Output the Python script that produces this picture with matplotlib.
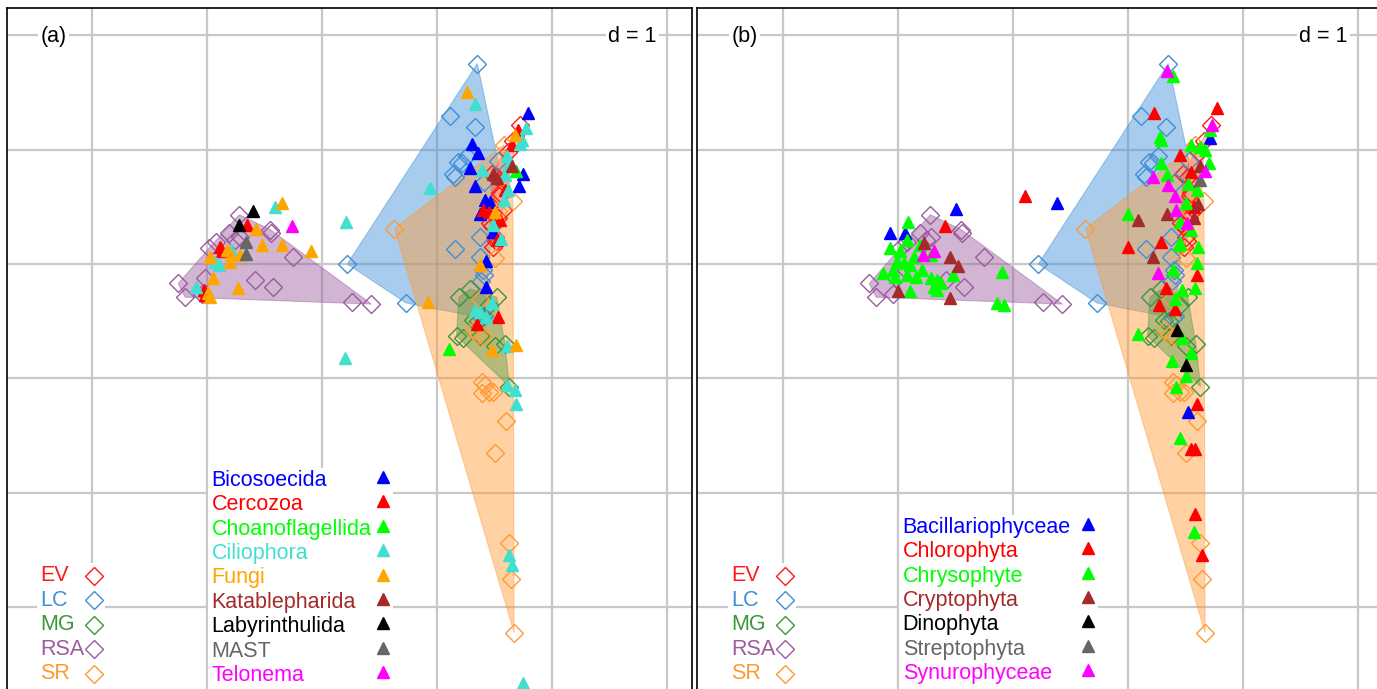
import matplotlib
matplotlib.use("Agg")
import matplotlib.pyplot as plt
from matplotlib.patches import Polygon, Rectangle

plt.rcParams['font.family'] = ['Liberation Sans', 'DejaVu Sans']

# sample scores, same in both panels
ev = [(0.72, 1.21), (0.66, 1.07), (0.62, 0.98), (0.52, 0.76), (0.48, 0.79), (0.54, 0.59),
      (0.55, 0.62), (0.57, 0.47), (0.46, 0.36), (0.53, 0.40), (0.48, 0.33), (0.50, 0.24),
      (0.49, 0.15), (0.51, 0.20)]
lc = [(0.35, 1.75), (0.11, 1.29), (0.33, 1.20), (0.18, 0.89), (0.22, 0.88), (0.26, 0.94),
      (0.14, 0.79), (0.16, 0.76), (0.41, 0.72), (0.53, 0.90), (0.16, 0.13), (0.37, 0.24),
      (0.37, 0.06), (0.40, -0.05), (0.41, -0.10), (0.38, -0.15), (0.39, -0.47), (0.41, -0.45),
      (-0.78, 0.0), (-0.27, -0.34)]
mg = [(0.29, -0.22), (0.19, -0.29), (0.52, -0.29), (0.45, -0.36), (0.31, -0.49), (0.36, -0.50),
      (0.17, -0.63), (0.23, -0.65), (0.37, -0.63), (0.50, -0.72), (0.59, -0.70), (0.63, -1.07)]
rsa = [(-1.72, 0.43), (-1.45, 0.30), (-1.44, 0.27), (-1.25, 0.06), (-1.81, 0.27), (-1.71, 0.24),
       (-1.92, 0.19), (-1.98, 0.14), (-1.76, 0.21), (-2.02, -0.12), (-2.25, -0.17), (-2.19, -0.29),
       (-2.04, -0.26), (-1.58, -0.14), (-1.43, -0.20), (-0.74, -0.33), (-0.57, -0.35)]
sr = [(-0.37, 0.31), (0.58, 1.04), (0.66, 0.55), (0.53, 0.46), (0.50, 0.05), (0.37, -0.31),
      (0.32, -0.58), (0.36, -0.62), (0.40, -0.63), (0.39, -1.03), (0.42, -1.06), (0.45, -1.12),
      (0.49, -1.12), (0.39, -1.13), (0.60, -1.37), (0.50, -1.65), (0.63, -2.44), (0.64, -2.75),
      (0.67, -3.22)]
groups = ['EV', 'LC', 'MG', 'RSA', 'SR']
group_pts = [ev, lc, mg, rsa, sr]
group_cols = ['#ff1a1a', '#3f8fd8', '#3c963c', '#9a5c9e', '#ff9a33']
hull_alpha = [0.25, 0.45, 0.38, 0.45, 0.45]

# panel (a) taxa scores
bicosoecida = [(0.79, 1.32), (0.30, 1.05), (0.36, 0.97), (0.29, 0.84), (0.33, 0.68), (0.42, 0.56),
               (0.37, 0.44), (0.46, 0.54), (0.75, 0.79), (0.71, 0.68), (0.43, 0.03), (0.43, -0.20),
               (0.49, 0.28)]
cercozoa = [(-1.65, 0.34), (-1.89, 0.15), (-1.87, 0.11), (-2.03, -0.23), (-2.02, -0.27), (0.65, 1.04),
            (0.70, 1.17), (0.40, 0.47), (0.45, 0.45), (0.59, 0.65), (0.52, 0.21), (0.55, 0.38),
            (0.53, -0.46), (0.35, -0.52)]
choanoflagellida = [(0.10, -0.74), (0.69, 0.81)]
ciliophora = [(-1.41, 0.50), (-1.79, 0.12), (-1.90, -0.01), (-1.93, 0.02), (-2.10, -0.20), (-0.79, 0.37),
              (-0.80, -0.82), (-0.06, 0.66), (0.33, 1.40), (0.77, 1.19), (0.74, 1.08), (0.72, 1.05),
              (0.61, 0.94), (0.62, 0.86), (0.59, 0.78), (0.62, 0.65), (0.58, 0.56), (0.39, 0.82),
              (0.49, 0.34), (0.56, 0.22), (0.33, -0.40), (0.37, -0.42), (0.43, -0.46), (0.48, -0.34),
              (0.61, -0.72), (0.61, -1.06), (0.68, -1.10), (0.69, -1.22), (0.63, -2.54), (0.65, -2.63),
              (0.75, -3.66)]
fungi = [(-1.35, 0.53), (-1.57, 0.31), (-1.52, 0.17), (-1.35, 0.17), (-1.10, 0.11), (-1.97, 0.06),
         (-1.83, 0.12), (-1.79, 0.08), (-1.80, 0.02), (-1.71, 0.08), (-1.95, -0.12), (-1.99, -0.25),
         (-1.97, -0.29), (-1.73, -0.21), (0.26, 1.50), (-0.08, -0.33), (0.37, -0.01), (0.48, -0.75),
         (0.69, -0.71), (0.68, 1.13), (0.50, 0.45)]
katablepharida = [(0.49, 0.79), (0.65, 0.86), (0.52, 0.75)]
labyrinthulida = [(-1.60, 0.46), (-1.72, 0.34)]
mast = [(-1.66, 0.19), (-1.66, 0.09)]
telonema = [(-1.26, 0.33)]
taxa_a = ['Bicosoecida', 'Cercozoa', 'Choanoflagellida', 'Ciliophora', 'Fungi',
          'Katablepharida', 'Labyrinthulida', 'MAST', 'Telonema']
taxa_a_pts = [bicosoecida, cercozoa, choanoflagellida, ciliophora, fungi,
              katablepharida, labyrinthulida, mast, telonema]
taxa_a_cols = ['#0000ff', '#ff0000', '#00ff00', '#40e0d0', '#ffa500',
               '#a52a2a', '#000000', '#666666', '#ff00ff']

# panel (b) taxa scores
bacillariophyceae = [(-1.50, 0.48), (-2.07, 0.27), (-1.94, 0.27), (-0.62, 0.53), (0.71, 1.10), (0.52, -1.29)]
chlorophyta = [(-0.90, 0.59), (-1.59, 0.33), (0.77, 1.36), (0.23, 1.32), (0.45, 0.95), (0.55, 0.80),
               (0.57, 0.50), (0.29, 0.19), (0.00, 0.15), (0.33, -0.21), (0.27, -0.36), (0.60, -0.10),
               (0.41, -0.39), (0.60, -1.22), (0.55, -1.62), (0.58, -1.62), (0.58, -2.18), (0.64, -2.54)]
chrysophyte = [(-1.91, 0.37), (-1.92, 0.21), (-2.07, 0.14), (-1.81, 0.17), (-1.71, 0.08), (-1.10, -0.07),
               (-1.14, -0.34), (-1.08, -0.36), (-2.01, 0.03), (-1.95, 0.01), (-1.90, -0.01), (-2.04, -0.05),
               (-2.13, -0.08), (-2.03, -0.11), (-1.92, -0.10), (-1.84, -0.11), (-1.79, -0.05), (-1.71, -0.12),
               (-1.66, -0.14), (-1.69, -0.20), (-1.63, -0.17), (-1.52, -0.10), (-1.90, -0.24), (-1.66, -0.23),
               (-1.98, 0.11), (-1.86, 0.06),
               (0.39, 1.64), (0.71, 1.17), (0.28, 1.11), (0.29, 1.08), (0.55, 1.04), (0.63, 1.02),
               (0.67, 1.00), (0.70, 0.88), (0.29, 0.88), (0.34, 0.78), (0.50, 0.53), (0.45, 0.37),
               (0.00, 0.44), (0.45, 0.18), (0.61, 0.15), (0.39, -0.05), (0.60, 0.01), (0.44, 0.17),
               (0.47, -0.23), (0.58, -0.21), (0.41, -0.31), (0.09, -0.61), (0.47, -0.65), (0.55, -0.78),
               (0.38, -0.85), (0.50, -0.98), (0.42, -1.07), (0.45, -1.52), (0.57, -2.34), (0.55, 0.30),
               (0.60, 0.65), (0.52, 0.70)]
cryptophyta = [(-1.77, 0.18), (-1.55, 0.06), (-1.48, -0.02), (-2.00, -0.24), (-1.55, -0.30), (0.63, 0.86),
               (0.61, 0.52), (0.34, 0.44), (0.57, 0.40), (0.09, 0.38), (0.22, 0.06)]
dinophyta = [(0.43, -0.58), (0.50, -0.88)]
streptophyta = [(0.63, 0.73)]
synurophyceae = [(-1.78, 0.08), (-1.69, 0.11), (0.34, 1.69), (0.73, 1.21), (0.22, 0.76), (0.35, 0.69),
                 (0.67, 0.81), (0.41, 0.59), (0.42, 0.47), (0.51, 0.36), (0.26, -0.08)]
taxa_b = ['Bacillariophyceae', 'Chlorophyta', 'Chrysophyte', 'Cryptophyta',
          'Dinophyta', 'Streptophyta', 'Synurophyceae']
taxa_b_pts = [bacillariophyceae, chlorophyta, chrysophyte, cryptophyta,
              dinophyta, streptophyta, synurophyceae]
taxa_b_cols = ['#0000ff', '#ff0000', '#00ff00', '#a52a2a', '#000000', '#666666', '#ff00ff']


def convex_hull(pts):
    pts = sorted(set(pts))

    def cross(o, a, b):
        return (a[0] - o[0]) * (b[1] - o[1]) - (a[1] - o[1]) * (b[0] - o[0])
    lower = []
    for p in pts:
        while len(lower) >= 2 and cross(lower[-2], lower[-1], p) <= 0:
            lower.pop()
        lower.append(p)
    upper = []
    for p in reversed(pts):
        while len(upper) >= 2 and cross(upper[-2], upper[-1], p) <= 0:
            upper.pop()
        upper.append(p)
    return lower[:-1] + upper[:-1]


FS = 15.5
STEP = 0.213
DMS = 9


def panel(ax, tag, xlim, names, pts_list, cols, tx_tri, ty0):
    ax.set_xlim(*xlim)
    ax.set_ylim(-3.712, 2.236)
    ax.set_xticks(range(-3, 3))
    ax.set_yticks(range(-3, 3))
    ax.grid(True, color='#c8c8c8', lw=1.6, zorder=0)
    ax.set_axisbelow(True)
    ax.tick_params(length=0, labelbottom=False, labelleft=False)
    for s in ax.spines.values():
        s.set_linewidth(1.2)
    ax.spines['bottom'].set_visible(False)
    ax.axhline(0, color='black', lw=1.1, zorder=0.5)
    ax.axvline(0, color='black', lw=1.1, zorder=0.5)

    # hulls: LC, SR, MG, EV, RSA
    for i in [1, 4, 2, 0, 3]:
        h = convex_hull(group_pts[i])
        ax.add_patch(Polygon(h, closed=True, facecolor=group_cols[i], alpha=hull_alpha[i],
                             edgecolor=group_cols[i], lw=0.8, zorder=1))
    for g, p, c in zip(groups, group_pts, group_cols):
        ax.plot([q[0] for q in p], [q[1] for q in p], 'D', ms=DMS, mfc='none',
                mec=c, mew=1.0, zorder=2)
    for p, c in zip(pts_list, cols):
        ax.plot([q[0] for q in p], [q[1] for q in p], '^', ms=8.5, color=c,
                mec=c, zorder=3, clip_on=True)

    box = dict(facecolor='white', edgecolor='none', pad=1.5)
    ax.text(-3.45, 1.99, tag, fontsize=FS, ha='left', va='center', bbox=box, zorder=5)
    ax.text(1.91, 1.99, 'd = 1', fontsize=FS, ha='right', va='center', bbox=box, zorder=5)

    # group legend
    gy0 = -2.725
    ax.add_patch(Rectangle((-3.48, -3.9), 0.59, gy0 + 0.115 + 3.9, facecolor='white',
                           edgecolor='none', zorder=4))
    for k, (g, c) in enumerate(zip(groups, group_cols)):
        y = gy0 - k * STEP
        ax.text(-3.45, y, g, color=c, fontsize=FS, ha='left', va='center', zorder=6)
        ax.plot([-2.98], [y], 'D', ms=DMS, mfc='none', mec=c, mew=1.0, zorder=6)

    # taxa legend
    ax.add_patch(Rectangle((-1.99, -3.9), tx_tri + 0.09 + 1.99, ty0 + 0.11 + 3.9,
                           facecolor='white', edgecolor='none', zorder=4))
    for k, (n, c) in enumerate(zip(names, cols)):
        y = ty0 - k * STEP
        ax.text(-1.96, y, n, color=c, fontsize=FS, ha='left', va='center', zorder=6)
        ax.plot([tx_tri], [y + 0.03], '^', ms=8.5, color=c, zorder=6)


W, H = 1377, 689
fig = plt.figure(figsize=(W / 100, H / 100), dpi=100)
top = 1 - 8 / H
ax1 = fig.add_axes([7 / W, 0, 685 / W, top])
ax2 = fig.add_axes([697 / W, 0, 683 / W, top])
panel(ax1, '(a)', (-3.739, 2.217), taxa_a, taxa_a_pts, taxa_a_cols, -0.47, -1.89)
panel(ax2, '(b)', (-3.748, 2.191), taxa_b, taxa_b_pts, taxa_b_cols, -0.35, -2.30)

fig.savefig('out.png', dpi=100)
